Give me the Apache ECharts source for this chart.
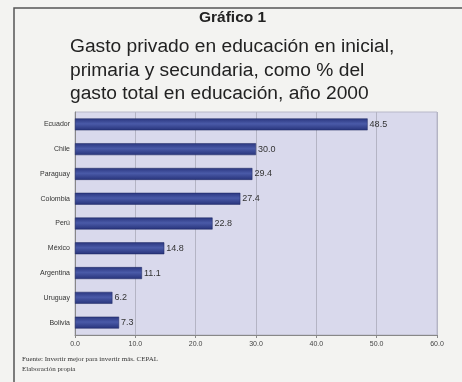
<!DOCTYPE html>
<html><head><meta charset="utf-8">
<script src="https://cdn.jsdelivr.net/npm/echarts@6/dist/echarts.min.js"></script>
<style>html,body{margin:0;padding:0;background:#f3f3f1;}#c{width:462px;height:382px;}</style>
</head><body><div id="c"></div>
<script>
const categories = ['Ecuador','Chile','Paraguay','Colombia','Perú','México','Argentina','Uruguay','Bolivia'];
const values = [48.5, 30.0, 29.4, 27.4, 22.8, 14.8, 11.1, 6.2, 7.3];
const xMin = 0, xMax = 60, xStep = 10;
const titleText = 'Gráfico 1';
const subtitleLines = ['Gasto privado en educación en inicial,', 'primaria y secundaria, como % del', 'gasto total en educación, año 2000'];
const footLines = ['Fuente: Invertir mejor para invertir más. CEPAL', 'Elaboración propia'];

const chart = echarts.init(document.getElementById('c'), null, {renderer:'canvas'});
chart.setOption({
  backgroundColor: '#f3f3f1',
  animation: false,
  graphic: [
    {type:'rect', shape:{x:14, y:8, width:460, height:390}, style:{fill:'none', stroke:'#555', lineWidth:1.5}, z:-1},
    {type:'text', left:199, top:10, style:{text:titleText, font:'bold 15.5px "Liberation Sans", Arial', fill:'#222'}},
    {type:'text', left:70, top:35, style:{text:subtitleLines.join('\n'), font:'19.2px "Liberation Sans", Arial', lineHeight:23.5, fill:'#222'}},
    {type:'text', left:22, top:354, style:{text:footLines.join('\n'), font:'7px "Liberation Serif", serif', lineHeight:10, fill:'#333'}}
  ],
  grid: {left:75, right:25, top:112, bottom:47, show:true, backgroundColor:'#d9d9ec', borderColor:'#b8b8c8', borderWidth:1},
  xAxis: {
    type:'value', min:xMin, max:xMax, interval:xStep,
    axisLine:{show:true, lineStyle:{color:'#888'}},
    axisTick:{show:true, length:3, lineStyle:{color:'#888'}},
    axisLabel:{fontSize:7, color:'#444', margin:6, formatter: v => v.toFixed(1), fontFamily:'Liberation Sans'},
    splitLine:{show:true, lineStyle:{color:'#b4b4c4', width:1}}
  },
  yAxis: {
    type:'category', data:categories, inverse:true,
    axisLine:{show:true, lineStyle:{color:'#888'}},
    axisTick:{show:false},
    axisLabel:{fontSize:7, color:'#333', margin:5, fontFamily:'Liberation Sans'}
  },
  series: [{
    type:'bar', data:values, barWidth:'48%',
    itemStyle:{color: new echarts.graphic.LinearGradient(0,0,0,1,[{offset:0,color:'#2a367f'},{offset:0.45,color:'#4a5aa8'},{offset:1,color:'#27337a'}]), borderColor:'#1d2660', borderWidth:0.5},
    label:{show:true, position:'right', distance:2, fontSize:9, color:'#333', formatter: p => p.value.toFixed(1), fontFamily:'Liberation Sans'}
  }]
});
</script></body></html>
